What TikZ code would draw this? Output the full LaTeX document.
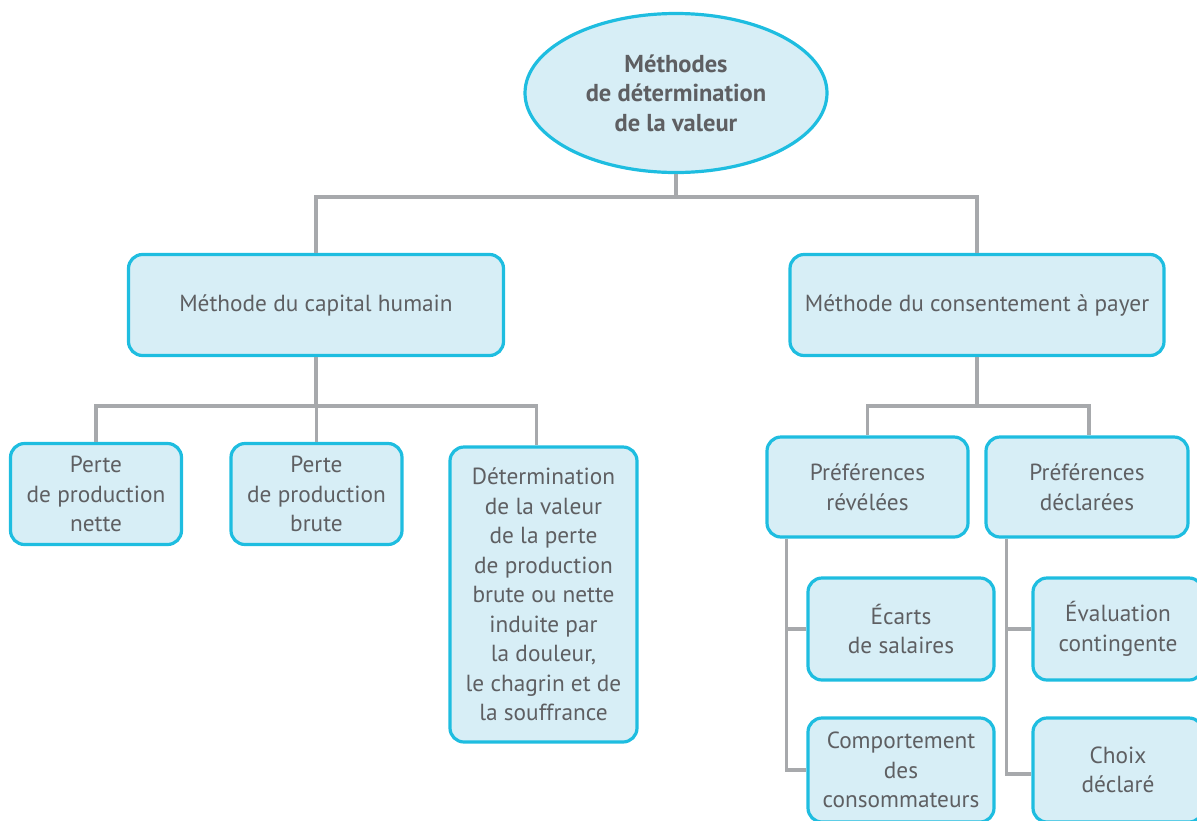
\documentclass[tikz,border=0pt]{standalone}
\usepackage{fontspec}
\setmainfont{PT Sans}
\usetikzlibrary{shapes.geometric}
\definecolor{boxfill}{HTML}{D7EEF6}
\definecolor{boxline}{HTML}{1EBDE0}
\definecolor{txtgray}{HTML}{5E5F62}
\definecolor{wiregray}{HTML}{A7A9AC}
\begin{document}
\begin{tikzpicture}[x=1pt,y=-1pt,
  box/.style={draw=boxline, fill=boxfill, line width=3.2pt, rounded corners=14pt,
    text=txtgray, align=center, inner sep=0pt, font=\fontsize{23.3}{29.5}\selectfont},
  link/.style={draw=wiregray, line width=3.2pt}]
\clip (0,0) rectangle (1197,820);
% top of the tree
\node [box, ellipse, rounded corners=0pt, minimum width=302pt, minimum height=159pt,
  font=\fontsize{24.5}{29.5}\selectfont\bfseries] (top) at (676,93) {Méthodes\\de détermination\\de la valeur};
\node [box, minimum width=375pt, minimum height=101pt] (capital) at (316,305) {Méthode du capital humain};
\node [box, minimum width=374pt, minimum height=101pt] (consent) at (977,305) {Méthode du consentement à payer};
% capital humain
\node [box, minimum width=171pt, minimum height=101pt] (nette) at (96,494) {Perte\\de production\\nette};
\node [box, minimum width=171pt, minimum height=101pt] (brute) at (316.5,494) {Perte\\de production\\brute};
\node [box, minimum width=187pt, minimum height=295pt] (determ) at (543.5,594.5) {Détermination\\de la valeur\\de la perte\\de production\\brute ou nette\\induite par\\la douleur,\\le chagrin et de\\la souffrance};
% consentement a payer
\node [box, minimum width=201pt, minimum height=100pt] (revel) at (867.5,487) {Préférences\\révélées};
\node [box, minimum width=202pt, minimum height=100pt] (decl) at (1087,487) {Préférences\\déclarées};
\node [box, minimum width=186pt, minimum height=102pt] (ecarts) at (901,629) {Écarts\\de salaires};
\node [box, minimum width=186pt, minimum height=104pt] (comport) at (901,770) {Comportement\\des\\consommateurs};
\node [box, minimum width=170pt, minimum height=102pt] (evalc) at (1118,629) {Évaluation\\contingente};
\node [box, minimum width=170pt, minimum height=104pt] (choix) at (1118,770) {Choix\\déclaré};
% connectors
\coordinate (j1) at (676,197);
\coordinate (j2) at (316,406);
\coordinate (j3) at (977,406);
\draw [link] (top) -- (j1);
\draw [link] (j1) -| (capital);
\draw [link] (j1) -| (consent);
\draw [link] (capital) -- (j2);
\draw [link] (j2) -| (nette);
\draw [link] (j2) -| (brute);
\draw [link] (j2) -| ([xshift=-7pt]determ.north);
\draw [link] (consent) -- (j3);
\draw [link] (j3) -| (revel);
\draw [link] (j3) -| ([xshift=2pt]decl.north);
\draw [link] ([xshift=21pt]revel.south west) |- (ecarts);
\draw [link] ([xshift=21pt]revel.south west) |- (comport.west);
\draw [link] ([xshift=22pt]decl.south west) |- (evalc);
\draw [link] ([xshift=22pt]decl.south west) |- ([yshift=-4pt]choix.west);
\end{tikzpicture}
\end{document}
